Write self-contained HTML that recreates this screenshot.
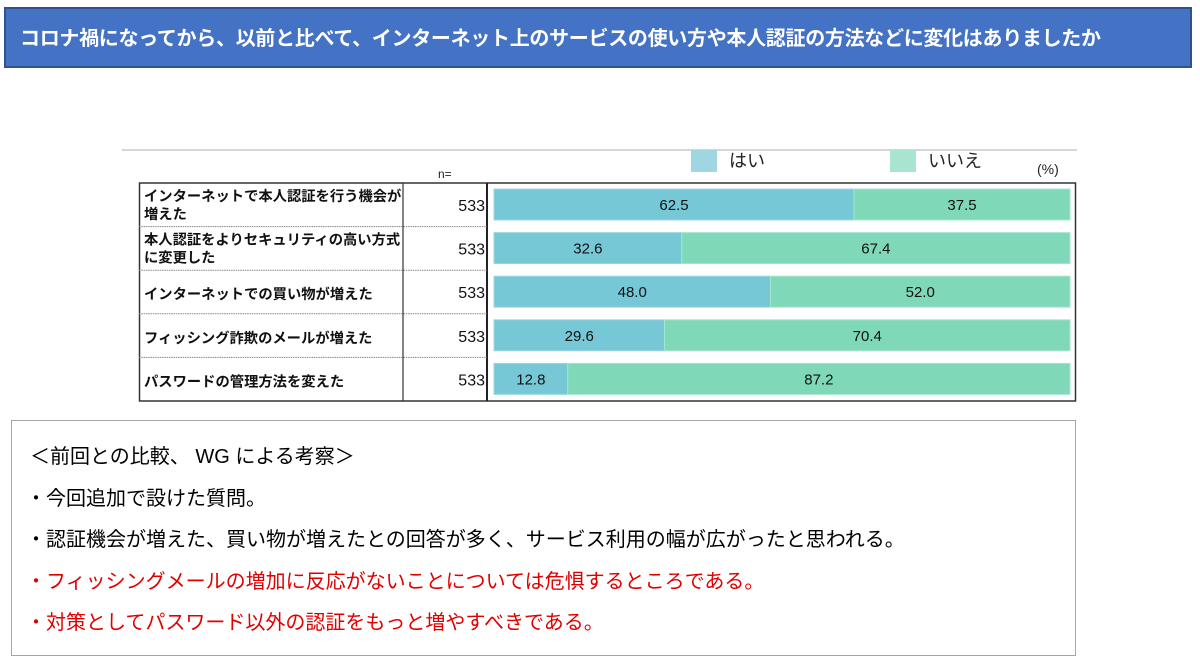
<!DOCTYPE html>
<html><head><meta charset="utf-8"><style>
body{margin:0;width:1200px;height:663px;background:#fff;position:relative;overflow:hidden;font-family:"Liberation Sans","Noto Sans CJK JP",sans-serif;}
.abs{position:absolute;}
#hdr{left:4px;top:7px;width:1188px;height:61px;background:#4472c4;border:2px solid #2f528f;color:#fff;font-size:20px;font-weight:bold;line-height:61px;padding-left:14px;box-sizing:border-box;letter-spacing:-0.3px;}
#cmt{left:11px;top:420px;width:1065px;height:236px;border:1.5px solid #a6a6a6;box-sizing:border-box;}
.cl{position:absolute;left:14px;font-size:20px;white-space:nowrap;}
</style></head><body>
<div id="hdr" class="abs">コロナ禍になってから、以前と比べて、インターネット上のサービスの使い方や本人認証の方法などに変化はありましたか</div>
<svg class="abs" style="left:0;top:0" width="1200" height="420" id="chart"></svg>
<div id="cmt" class="abs">
<div class="cl" style="top:19px;left:18px">＜前回との比較、 WG による考察＞</div>
<div class="cl" style="top:61px">・今回追加で設けた質問。</div>
<div class="cl" style="top:102px">・認証機会が増えた、買い物が増えたとの回答が多く、サービス利用の幅が広がったと思われる。</div>
<div class="cl" style="top:144px;color:#e00000">・フィッシングメールの増加に反応がないことについては危惧するところである。</div>
<div class="cl" style="top:185px;color:#e00000">・対策としてパスワード以外の認証をもっと増やすべきである。</div>
</div>
<script>
const categories=[["インターネットで本人認証を行う機会が","増えた"],["本人認証をよりセキュリティの高い方式","に変更した"],["インターネットでの買い物が増えた"],["フィッシング詐欺のメールが増えた"],["パスワードの管理方法を変えた"]];
const nValues=[533,533,533,533,533];
const yesValues=[62.5,32.6,48.0,29.6,12.8];
const noValues=[37.5,67.4,52.0,70.4,87.2];
const seriesNames=["はい","いいえ"];
const NS="http://www.w3.org/2000/svg";
const svg=document.getElementById('chart');
function mk(t,a,p){const e=document.createElementNS(NS,t);for(const k in a)e.setAttribute(k,a[k]);(p||svg).appendChild(e);return e;}
const X0=494,W=576,T=183,RH=43.6;
const xs=v=>X0+v/100*W;
const yRow=i=>T+i*RH;
let e;
e=mk('line',{x1:122,y1:150,x2:1077,y2:150,stroke:'#c8c8c8','stroke-width':1.5});

const lc=['#9fd6e2','#a8e4cf'];const lx=[691,890];
seriesNames.forEach((s,i)=>{
 e=mk('rect',{x:lx[i],y:150,width:26,height:22,fill:lc[i]});
 
 e=mk('text',{x:lx[i]+38,y:167,'font-size':18,fill:'#222'});e.textContent=s;
 
});
e=mk('text',{x:1037,y:174,'font-size':14,fill:'#222'});e.textContent='(%)';

e=mk('text',{x:438,y:178,'font-size':12,fill:'#222'});e.textContent='n=';

const B=T+RH*categories.length;
e=mk('rect',{x:139.5,y:T,width:936,height:B-T,fill:'none',stroke:'#333','stroke-width':1.5});

e=mk('line',{x1:403,y1:T,x2:403,y2:B,stroke:'#333','stroke-width':1.2});

e=mk('line',{x1:487,y1:T,x2:487,y2:B,stroke:'#222','stroke-width':2});

categories.forEach((c,i)=>{
 const y=yRow(i);
 if(i>0){e=mk('line',{x1:139,y1:y,x2:487,y2:y,stroke:'#888','stroke-width':1,'stroke-dasharray':'1.5 0.8'});
 }
 c.forEach((ln,j)=>{e=mk('text',{x:144,y:c.length>1?y+18+j*18:y+29,'font-size':14.3,'font-weight':'bold',fill:'#111'});e.textContent=ln;
 });
 e=mk('text',{x:485,y:y+28,'font-size':16,'text-anchor':'end',fill:'#111'});e.textContent=nValues[i];
 
 const by=y+6,bh=31;
 e=mk('rect',{x:xs(0),y:by,width:xs(yesValues[i])-xs(0),height:bh,fill:'#76c8d6',stroke:'#9fd6e2','stroke-width':1});
 
 e=mk('rect',{x:xs(yesValues[i]),y:by,width:xs(yesValues[i]+noValues[i])-xs(yesValues[i]),height:bh,fill:'#7fd8b8',stroke:'#a8e4cf','stroke-width':1});
 
 e=mk('text',{x:(xs(0)+xs(yesValues[i]))/2,y:by+21,'font-size':15,'text-anchor':'middle',fill:'#111'});e.textContent=yesValues[i].toFixed(1);
 
 e=mk('text',{x:(xs(yesValues[i])+xs(yesValues[i]+noValues[i]))/2,y:by+21,'font-size':15,'text-anchor':'middle',fill:'#111'});e.textContent=noValues[i].toFixed(1);
 
});
</script>
</body></html>
